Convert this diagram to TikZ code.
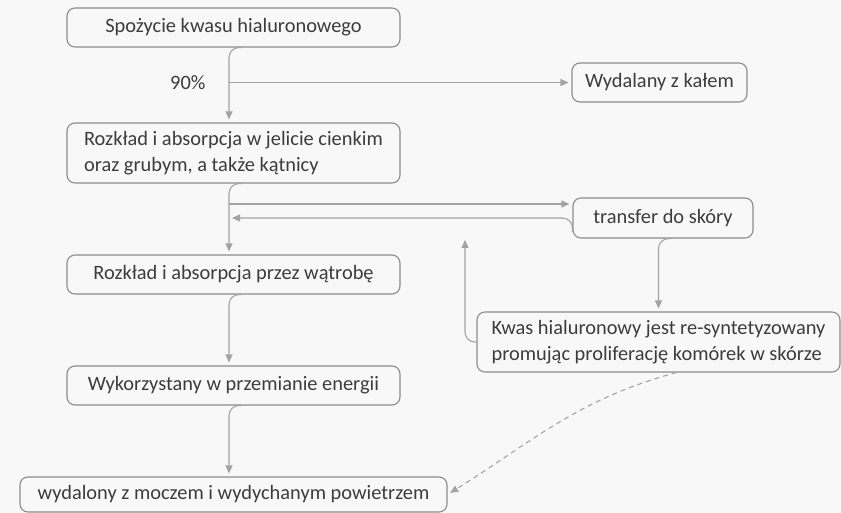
\documentclass[tikz,border=0pt]{standalone}
\usepackage{fontspec}
\setmainfont{Carlito}
\usetikzlibrary{scopes,arrows.meta}
\definecolor{bggray}{HTML}{F8F8F8}
\definecolor{boxgray}{HTML}{8C8C8C}
\definecolor{linegray}{HTML}{A3A3A3}
\definecolor{txtgray}{HTML}{3C3C3C}

\begin{document}
\begin{tikzpicture}[
    x=1pt,y=-1pt,
    font=\fontsize{20.4}{26}\selectfont,
    box/.style={draw=boxgray,line width=1.1pt,rounded corners=8pt,text=txtgray,
        inner sep=0pt,minimum height=39pt,align=left},
    wide/.style={box,minimum width=333pt},
    link/.style={draw=linegray,line width=1.1pt,rounded corners=10pt,shorten >=3pt,
        -{Triangle[width=7pt,length=8pt]}},
]
    \fill[bggray] (0,0) rectangle (841,513);
    \useasboundingbox (0,0) rectangle (841,513);

    \node[wide] (spoz) at (233.5,27.5) {Spożycie kwasu hialuronowego};
    \node[wide,minimum height=60pt] (jel) at (233.5,153) {Rozkład i absorpcja w jelicie cienkim\\oraz grubym, a także kątnicy};
    \node[wide] (wat) at (233.5,274.5) {Rozkład i absorpcja przez wątrobę};
    \node[wide] (ener) at (233.5,385.5) {Wykorzystany w przemianie energii};
    \node[box,minimum width=427pt,minimum height=35pt] (mocz) at (233.5,494.5) {wydalony z moczem i wydychanym powietrzem};
    \node[box,minimum width=175pt] (kal) at (659.5,82.5) {Wydalany z kałem};
    \node[box,minimum width=180pt,minimum height=40pt] (skora) at (663,218) {transfer do skóry};
    \node[box,minimum width=363pt,minimum height=60pt] (resyn) at (658.5,342) {Kwas hialuronowy jest re-syntetyzowany\\promując proliferację komórek w skórze};

    \coordinate (t1) at ([xshift=-4.5pt]jel.north |- kal.west);
    \coordinate (t2) at ([yshift=14pt]skora.west -| t1);
    \coordinate (up) at (465,237);
    \node[text=txtgray,left=20pt] (proc) at (t1) {90\%};

    {[link]
        \draw ([xshift=8pt]spoz.south) -| ([xshift=-4.5pt]jel.north);
        \draw (t1) -- (kal.west);
        \draw ([xshift=8pt]jel.south) -| ([xshift=-4.5pt]wat.north);
        \draw (t2) -- (t2 -| skora.west);
        \draw ([yshift=-14pt]skora.west) |- (t1 |- skora.west);
        \draw ([xshift=8pt]skora.south) -| (resyn.north);
        \draw (resyn.west) -| (up);
        \draw ([xshift=8pt]wat.south) -| ([xshift=-4.5pt]ener.north);
        \draw ([xshift=8pt]ener.south) -| ([xshift=-4.5pt]mocz.north);
        \draw[dash pattern=on 5pt off 4pt] ([xshift=18pt]resyn.south) to[out=195,in=32] (mocz.east);
    }
\end{tikzpicture}
\end{document}
